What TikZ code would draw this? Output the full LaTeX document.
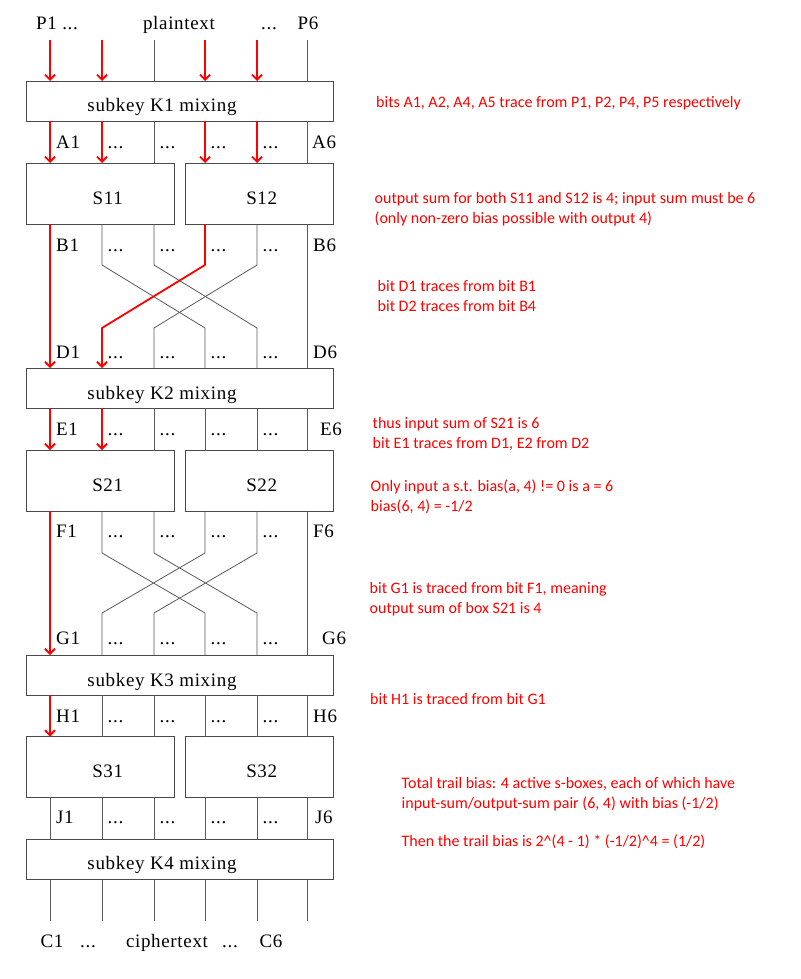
\documentclass[tikz,border=0pt]{standalone}
\usepackage{fontspec}
\setmainfont[LetterSpace=3.5]{Liberation Serif}
\newfontfamily\annotfont{Carlito}
\usetikzlibrary{arrows.meta}
\definecolor{wiregray}{HTML}{5A5A5A}
\definecolor{boxgray}{HTML}{4A4A4A}
\definecolor{tracered}{HTML}{FF0000}
\tikzset{
  wire/.style={draw=wiregray, line width=0.8pt},
  trace/.style={draw=tracered, line width=1.8pt, line join=round,
    -{Straight Barb[length=5pt,width=10pt]}},
  keybox/.style={draw=boxgray, line width=0.9pt, minimum width=307pt,
    minimum height=40pt, inner sep=0pt, outer sep=0pt},
  sbox/.style={draw=boxgray, line width=0.9pt, minimum width=148pt,
    minimum height=61pt, inner sep=0pt, outer sep=0pt},
  lbl/.style={font=\fontsize{19}{22}\selectfont, inner sep=0pt, anchor=base west},
  ctr/.style={font=\fontsize{19}{22}\selectfont, inner sep=0pt, anchor=base},
  note/.style={font=\annotfont\fontsize{16}{20}\selectfont, text=tracered,
    inner sep=0pt, anchor=base west},
}
\begin{document}
\begin{tikzpicture}[x=1pt,y=-1pt]
\useasboundingbox (0,0) rectangle (800,979);
\fill[white] (0,0) rectangle (800,979);

% columns
\foreach \i/\x in {1/50,2/102,3/154,4/205,5/257,6/307}{
  \coordinate (c\i) at (\x,0);
  \coordinate (t\i) at (\x,40);
  \coordinate (e\i) at (\x,921);
}
\coordinate (xa) at (0,265);
\coordinate (xb) at (0,328);
\coordinate (xc) at (0,553);
\coordinate (xd) at (0,613);

% boxes
\node[keybox] (K1) at (179.5,101) {};
\node[sbox] (S11) at (100,193.5) {};
\node[sbox] (S12) at (259,193.5) {};
\node[keybox] (K2) at (179.5,388) {};
\node[sbox] (S21) at (100,480.5) {};
\node[sbox] (S22) at (259,480.5) {};
\node[keybox] (K3) at (179.5,675) {};
\node[sbox] (S31) at (100,767) {};
\node[sbox] (S32) at (259,767) {};
\node[keybox] (K4) at (179.5,859.5) {};

% box texts
\node[ctr] (K1t) at (162,112) {subkey K1 mixing};
\node[ctr] (K2t) at (162,399) {subkey K2 mixing};
\node[ctr] (K3t) at (162,686) {subkey K3 mixing};
\node[ctr] (K4t) at (162,869.5) {subkey K4 mixing};
\node[ctr] (S11t) at (107.7,204) {S11};
\node[ctr] (S12t) at (261.7,204) {S12};
\node[ctr] (S21t) at (107.7,491) {S21};
\node[ctr] (S22t) at (261.7,491) {S22};
\node[ctr] (S31t) at (107.7,777.7) {S31};
\node[ctr] (S32t) at (261.7,777.7) {S32};

% ---------- gray wires ----------
\foreach \i in {3,6} \draw[wire] (t\i) -- (K1.north -| c\i);
\draw[wire] (K1.south -| c3) -- (S11.north -| c3);
\draw[wire] (K1.south -| c6) -- (S12.north -| c6);
% first permutation
\draw[wire] (S12.south -| c6) -- (K2.north -| c6);
\foreach \s/\t/\b in {2/4/S11,3/5/S11,5/3/S12}
  \draw[wire] (\b.south -| c\s) -- (c\s |- xa) -- (c\t |- xb) -- (K2.north -| c\t);
% K2 -> S2x
\draw[wire] (K2.south -| c3) -- (S21.north -| c3);
\foreach \i in {4,5,6} \draw[wire] (K2.south -| c\i) -- (S22.north -| c\i);
% second permutation
\draw[wire] (S22.south -| c6) -- (K3.north -| c6);
\foreach \s/\t/\b in {2/4/S21,3/5/S21,4/2/S22,5/3/S22}
  \draw[wire] (\b.south -| c\s) -- (c\s |- xc) -- (c\t |- xd) -- (K3.north -| c\t);
% K3 -> S3x
\foreach \i in {2,3} \draw[wire] (K3.south -| c\i) -- (S31.north -| c\i);
\foreach \i in {4,5,6} \draw[wire] (K3.south -| c\i) -- (S32.north -| c\i);
% S3x -> K4
\foreach \i in {1,2,3} \draw[wire] (S31.south -| c\i) -- (K4.north -| c\i);
\foreach \i in {4,5,6} \draw[wire] (S32.south -| c\i) -- (K4.north -| c\i);
% K4 -> ciphertext
\foreach \i in {1,...,6} \draw[wire] (K4.south -| c\i) -- (e\i);

% ---------- red trace ----------
\foreach \i in {1,2,4,5} \draw[trace] (t\i) -- (K1.north -| c\i);
\foreach \i in {1,2} \draw[trace] (K1.south -| c\i) -- (S11.north -| c\i);
\foreach \i in {4,5} \draw[trace] (K1.south -| c\i) -- (S12.north -| c\i);
\draw[trace] (S11.south -| c1) -- (K2.north -| c1);
\draw[trace] (S12.south -| c4) -- (c4 |- xa) -- (c2 |- xb) -- (K2.north -| c2);
\foreach \i in {1,2} \draw[trace] (K2.south -| c\i) -- (S21.north -| c\i);
\draw[trace] (S21.south -| c1) -- (K3.north -| c1);
\draw[trace] (K3.south -| c1) -- (S31.north -| c1);

% ---------- bit labels ----------
\foreach \L/\y/\xs in {A/148/312, B/251/313, D/358/313, E/435/320, F/537/313, G/644/322, H/722/313, J/823/315}{
  \node[lbl] (\L1) at (56,\y) {\L1};
  \foreach \k/\x in {2/107.5,3/159.5,4/210.5,5/262.5}
    \node[lbl] (\L d\k) at (\x,\y) {...};
  \node[lbl] (\L6) at (\xs,\y) {\L6};
}

% top / bottom labels
\node[lbl] (P1) at (36,30) {P1 ...};
\node[ctr] (pt) at (179,30) {plaintext};
\node[ctr] (pd) at (269,30) {...};
\node[ctr] (P6) at (308,30) {P6};
\node[ctr] (C1) at (52,947) {C1};
\node[ctr] (cd1) at (88,947) {...};
\node[ctr] (ct) at (167,947) {ciphertext};
\node[ctr] (cd2) at (230,947) {...};
\node[ctr] (C6) at (271,947) {C6};

% ---------- annotations ----------
\node[note] (n1) at (376,107) {bits A1, A2, A4, A5 trace from P1, P2, P4, P5 respectively};
\node[note] (n2a) at (374.5,203) {output sum for both S11 and S12 is 4; input sum must be 6};
\node[note] (n2b) at (374.5,223) {(only non-zero bias possible with output 4)};
\node[note] (n3a) at (377.5,291) {bit D1 traces from bit B1};
\node[note] (n3b) at (377.5,311) {bit D2 traces from bit B4};
\node[note] (n4a) at (372.5,428.5) {thus input sum of S21 is 6};
\node[note] (n4b) at (372.5,448.5) {bit E1 traces from D1, E2 from D2};
\node[note] (n5a) at (370.5,491) {Only input a s.t. bias(a, 4) != 0 is a = 6};
\node[note] (n5b) at (370.5,511) {bias(6, 4) = -1/2};
\node[note] (n6a) at (369.5,593) {bit G1 is traced from bit F1, meaning};
\node[note] (n6b) at (369.5,613) {output sum of box S21 is 4};
\node[note] (n7) at (370,704) {bit H1 is traced from bit G1};
\node[note] (n8a) at (401.5,788.5) {Total trail bias: 4 active s-boxes, each of which have};
\node[note] (n8b) at (401.5,808.5) {input-sum/output-sum pair (6, 4) with bias (-1/2)};
\node[note] (n9) at (401.5,846) {Then the trail bias is 2\^{}(4 - 1) * (-1/2)\^{}4 = (1/2)};
\end{tikzpicture}
\end{document}
